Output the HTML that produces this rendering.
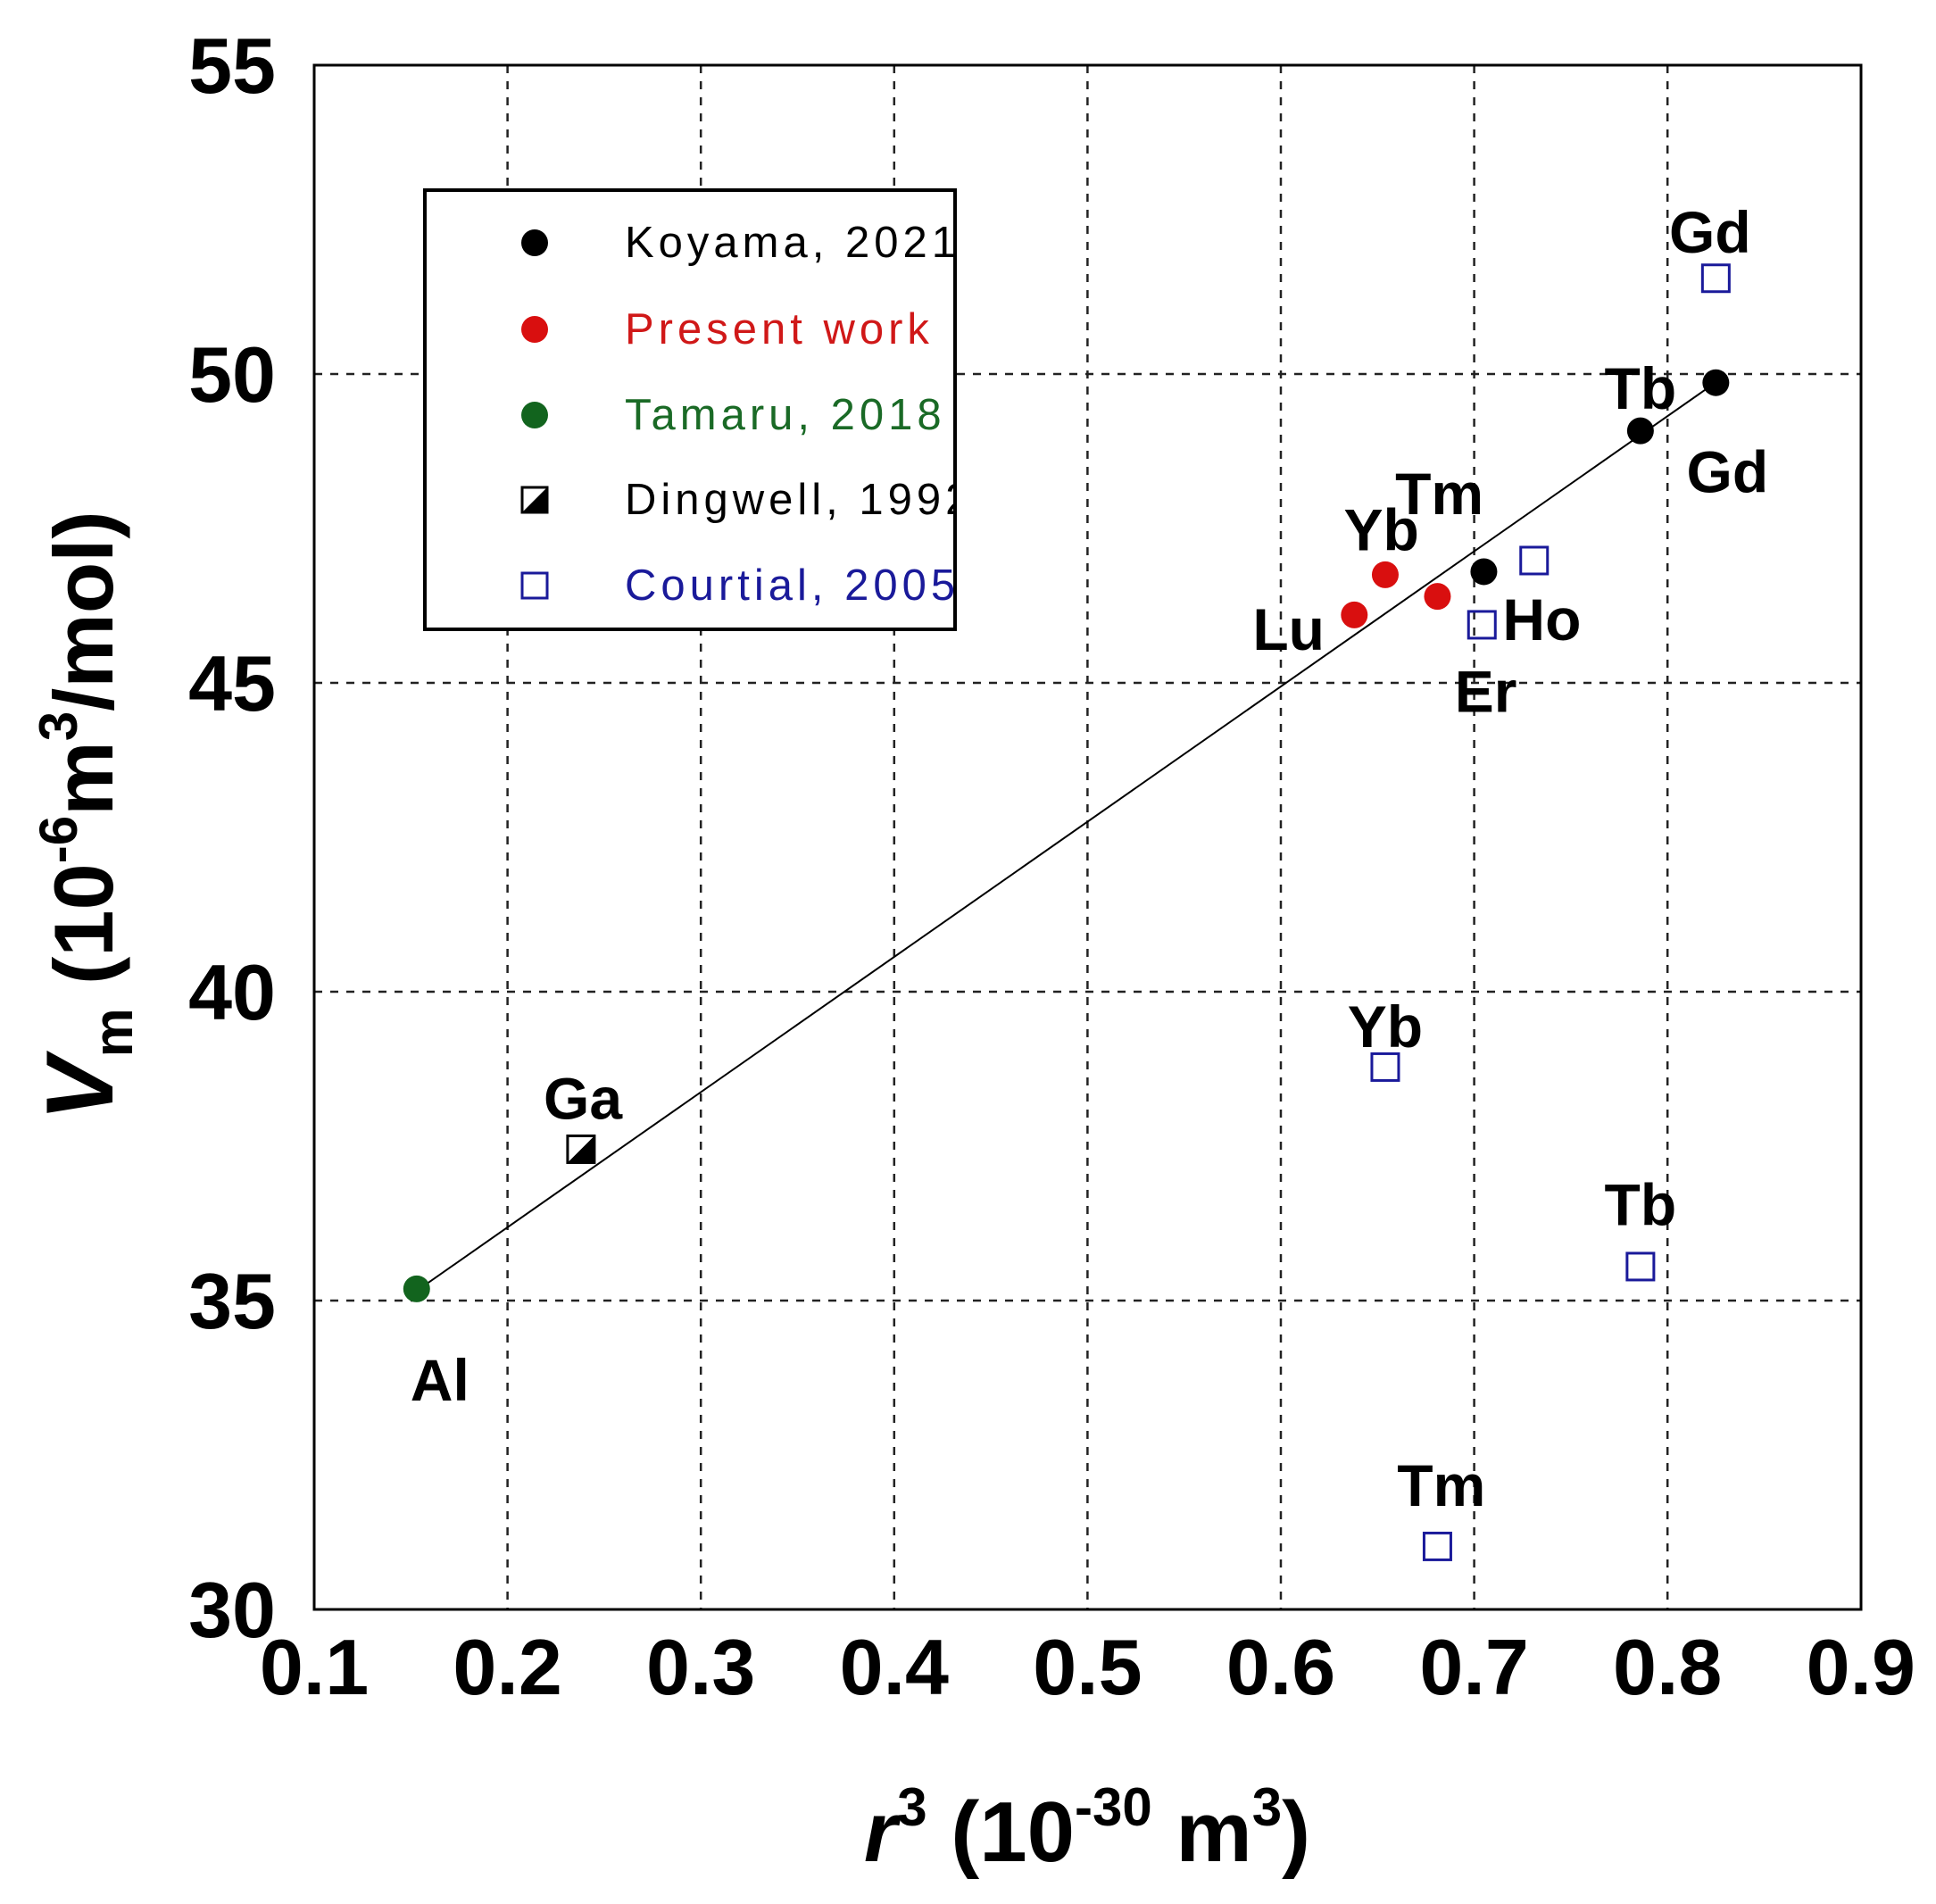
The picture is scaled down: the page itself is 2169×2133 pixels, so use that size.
<!DOCTYPE html>
<html><head><meta charset="utf-8"><style>
html,body{margin:0;padding:0;background:#fff;}
svg{display:block;font-family:"Liberation Sans",Arial,sans-serif;}
</style></head><body>
<svg id="chart" width="2169" height="2133" viewBox="0 0 2169 2133" xmlns="http://www.w3.org/2000/svg">
<g id="grid"></g>
<rect x="352" y="73" width="1733" height="1730" fill="none" stroke="#000" stroke-width="3"/>
<g id="ticks"></g>
<line id="fit" stroke="#000" stroke-width="2"/>
<g id="marks"></g>
<g id="labels"></g>
<clipPath id="legclip"><rect x="476" y="213" width="594" height="492"/></clipPath>
<g>
<rect x="476" y="213" width="594" height="492" fill="#fff"/>
<g clip-path="url(#legclip)">
<circle cx="599" cy="272" r="15" fill="#000"/>
<text x="700" y="288" font-size="49" letter-spacing="5" fill="#000">Koyama, 2021</text>
<circle cx="599" cy="369" r="15" fill="#d90f0f"/>
<text x="700" y="385" font-size="49" letter-spacing="5" fill="#d01818">Present work</text>
<circle cx="599" cy="465" r="15" fill="#12641e"/>
<text x="700" y="481" font-size="49" letter-spacing="5" fill="#1a6a26">Tamaru, 2018</text>
<rect x="585" y="546" width="28" height="28" fill="#fff" stroke="#000" stroke-width="3"/>
<polygon points="585,574 613,546 613,574" fill="#000"/>
<text x="700" y="576" font-size="49" letter-spacing="5" fill="#000">Dingwell, 1992</text>
<rect x="585" y="642" width="28" height="28" fill="#fff" stroke="#1a1a9a" stroke-width="3"/>
<text x="700" y="672" font-size="49" letter-spacing="5" fill="#1a1a9a">Courtial, 2005</text>
</g>
<rect x="476" y="213" width="594" height="492" fill="none" stroke="#000" stroke-width="4"/>
</g>
<text x="1218" y="2085" font-size="96" font-weight="bold" text-anchor="middle"><tspan font-style="italic">r</tspan><tspan font-size="60" dy="-40">3</tspan><tspan dy="40"> (10</tspan><tspan font-size="60" dy="-40">-30</tspan><tspan dy="40"> m</tspan><tspan font-size="60" dy="-40">3</tspan><tspan dy="40">)</tspan></text>
<text transform="translate(126,914) rotate(-90)" font-size="94" font-weight="bold" text-anchor="middle"><tspan font-style="italic" font-size="107">V</tspan><tspan font-size="62" dy="22">m</tspan><tspan dy="-22"> (10</tspan><tspan font-size="60" dy="-40">-6</tspan><tspan dy="40">m</tspan><tspan font-size="60" dy="-40">3</tspan><tspan dy="40">/mol)</tspan></text>
</svg>
<script>
const xTicks = [0.1,0.2,0.3,0.4,0.5,0.6,0.7,0.8,0.9];
const xTickLabels = ["0.1","0.2","0.3","0.4","0.5","0.6","0.7","0.8","0.9"];
const yTicks = [30,35,40,45,50,55];
const yTickLabels = ["30","35","40","45","50","55"];
const koyamaX = [0.825,0.786,0.705];
const koyamaY = [49.86,49.08,46.8];
const presentX = [0.638,0.654,0.681];
const presentY = [46.1,46.75,46.4];
const tamaruX = [0.153];
const tamaruY = [35.19];
const dingwellX = [0.238];
const dingwellY = [37.45];
const courtialX = [0.825,0.731,0.704,0.654,0.786,0.681];
const courtialY = [51.55,46.98,45.94,38.78,35.55,31.02];
const fitX = [0.149,0.822];
const fitY = [35.07,49.8];
const labelText = ["Gd","Tb","Gd","Tm","Yb","Lu","Ho","Er","Yb","Tb","Tm","Ga","Al"];
const labelX = [0.822,0.786,0.831,0.682,0.652,0.604,0.735,0.706,0.654,0.786,0.683,0.239,0.165];
const labelY = [52.31,49.78,48.43,48.08,47.49,45.88,46.04,44.88,39.45,36.57,32.02,38.29,33.73];

const NS="http://www.w3.org/2000/svg";
function X(v){return 352+(v-0.1)*2166;}
function Y(v){return 1803-(v-30)*69.2;}
function mk(tag,parent){const e=document.createElementNS(NS,tag);parent.appendChild(e);return e;}
const grid=document.getElementById('grid'),ticks=document.getElementById('ticks'),marks=document.getElementById('marks'),labels=document.getElementById('labels');
xTicks.forEach((t,i)=>{
  if(i>0&&i<xTicks.length-1){const l=mk('line',grid);
    
    
    l.setAttribute('x1',X(t));l.setAttribute('x2',X(t));l.setAttribute('y1',73);l.setAttribute('y2',1803);
    l.setAttribute('stroke','#222');l.setAttribute('stroke-width','2.5');l.setAttribute('stroke-dasharray','9 9');}
  const tx=mk('text',ticks);
  
  
  tx.setAttribute('x',X(t));tx.setAttribute('y',1898);tx.setAttribute('text-anchor','middle');
  tx.setAttribute('font-size','88');tx.setAttribute('font-weight','bold');tx.textContent=xTickLabels[i];
});
yTicks.forEach((t,i)=>{
  if(i>0&&i<yTicks.length-1){const l=mk('line',grid);
    
    
    l.setAttribute('x1',352);l.setAttribute('x2',2085);l.setAttribute('y1',Y(t));l.setAttribute('y2',Y(t));
    l.setAttribute('stroke','#222');l.setAttribute('stroke-width','2.5');l.setAttribute('stroke-dasharray','9 9');}
  const tx=mk('text',ticks);
  
  
  tx.setAttribute('x',309);tx.setAttribute('y',Y(t)+31);tx.setAttribute('text-anchor','end');
  tx.setAttribute('font-size','88');tx.setAttribute('font-weight','bold');tx.textContent=yTickLabels[i];
});
const fit=document.getElementById('fit');
fit.setAttribute('x1',X(fitX[0]));fit.setAttribute('y1',Y(fitY[0]));fit.setAttribute('x2',X(fitX[1]));fit.setAttribute('y2',Y(fitY[1]));
function circles(xs,ys,color,name){xs.forEach((x,i)=>{const c=mk('circle',marks);
  
  
  c.setAttribute('cx',X(x));c.setAttribute('cy',Y(ys[i]));c.setAttribute('r',15);c.setAttribute('fill',color);});}
circles(koyamaX,koyamaY,'#000','koyama-point');
circles(presentX,presentY,'#d90f0f','present-work-point');
circles(tamaruX,tamaruY,'#12641e','tamaru-point');
courtialX.forEach((x,i)=>{const r=mk('rect',marks);
  
  
  r.setAttribute('x',X(x)-15);r.setAttribute('y',Y(courtialY[i])-15);r.setAttribute('width',30);r.setAttribute('height',30);
  r.setAttribute('fill','none');r.setAttribute('stroke','#1a1a9a');r.setAttribute('stroke-width','3');});
dingwellX.forEach((x,i)=>{const cx=X(x),cy=Y(dingwellY[i]);const r=mk('rect',marks);
  
  
  r.setAttribute('x',cx-15);r.setAttribute('y',cy-15);r.setAttribute('width',30);r.setAttribute('height',30);
  r.setAttribute('fill','#fff');r.setAttribute('stroke','#000');r.setAttribute('stroke-width','3');
  const p=mk('polygon',marks);
  
  
  p.setAttribute('points',`${cx-15},${cy+15} ${cx+15},${cy-15} ${cx+15},${cy+15}`);p.setAttribute('fill','#000');});
labelText.forEach((s,i)=>{const t=mk('text',labels);
  
  
  t.setAttribute('x',X(labelX[i]));t.setAttribute('y',Y(labelY[i])+24);t.setAttribute('text-anchor','middle');
  t.setAttribute('font-size','66');t.setAttribute('font-weight','bold');t.textContent=s;});
</script>
</body></html>
